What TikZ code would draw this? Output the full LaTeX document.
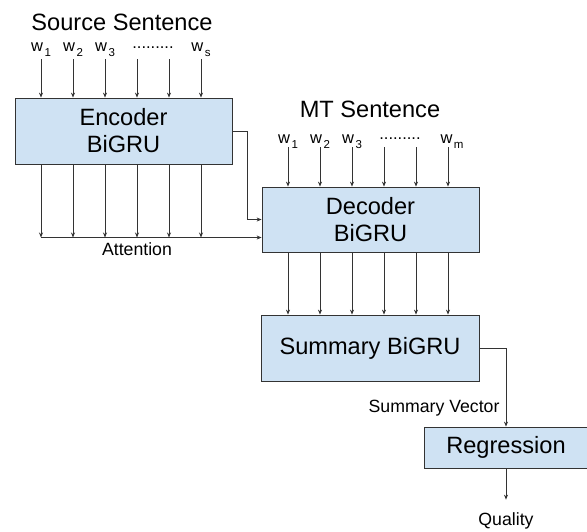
\documentclass[tikz,border=0pt]{standalone}
\usepackage{fontspec}
\setmainfont{Liberation Sans}
\usetikzlibrary{arrows.meta}
\definecolor{boxblue}{HTML}{CFE2F3}
\definecolor{edge}{HTML}{333333}
\newcommand{\wsub}[1]{w\hspace{1.5pt}\raisebox{-5.5pt}{\fontsize{11.5}{12}\selectfont #1}}

\begin{document}
\begin{tikzpicture}[
    x=1pt, y=-1pt,
    block/.style={
        rectangle,
        draw=edge,
        line width=0.8pt,
        fill=boxblue,
        align=center,
        inner sep=0pt,
        font=\fontsize{23.6}{27}\selectfont
    },
    title/.style={anchor=base, font=\fontsize{23.6}{27}\selectfont},
    word/.style={anchor=base, inner sep=1pt, font=\fontsize{16.5}{18}\selectfont},
    small/.style={anchor=base, font=\fontsize{17.7}{20}\selectfont},
    arr/.style={draw=edge, line width=0.8pt, -{Stealth[length=5pt,width=4pt]}}
]

\useasboundingbox (0,0) rectangle (587,531);

\node[title] (src) at (122,30) {Source Sentence};
\node[title] (mt) at (370,117) {MT Sentence};

\node[block, minimum width=217pt, minimum height=66pt] (enc) at (123.5,131) {Encoder\\BiGRU};
\node[block, minimum width=217pt, minimum height=65pt] (dec) at (370.5,219.5) {Decoder\\BiGRU};
\node[block, minimum width=218pt, minimum height=66pt] (sum) at (370,348) {Summary BiGRU};
\node[block, minimum width=164pt, minimum height=41pt] (reg) at (506,447.5) {Regression};

\foreach \i/\t in {0/1,1/2,2/3,5/s}
    \node[word] (sw\i) at ({41+32*\i},51) {\wsub{\t}};
\node[word] (sdots) at (153,48) {.........};

\foreach \i/\t in {0/1,1/2,2/3}
    \node[word] (mw\i) at ({288+32*\i},143) {\wsub{\t}};
\node[word] (mw5) at (452,143) {\wsub{m}};
\node[word] (mdots) at (400,139) {.........};

\coordinate (att) at (41,237.5);

\foreach \i in {0,...,5} {
    \coordinate (s\i) at ({41+32*\i},59);
    \coordinate (m\i) at ({288+32*\i},147);
    \draw[arr] (s\i) -- (s\i |- enc.north);
    \draw[arr] (s\i |- enc.south) -- (s\i |- att);
    \draw[arr] (m\i) -- (m\i |- dec.north);
    \draw[arr] (m\i |- dec.south) -- (m\i |- sum.north);
}

\draw[arr] (att) -- ([yshift=-18pt]dec.west);
\draw[arr] (enc.east) -- ++(15,0) |- (dec.west);
\node[small] (attn) at (137,255) {Attention};

\draw[arr] (sum.east) -| (reg.north);
\node[small, anchor=base east] (vec) at (503,412) {Summary Vector};

\node[small] (qual) at (506,525) {Quality};
\draw[arr, shorten >=9pt] (reg.south) -- (qual.north);

\end{tikzpicture}
\end{document}
